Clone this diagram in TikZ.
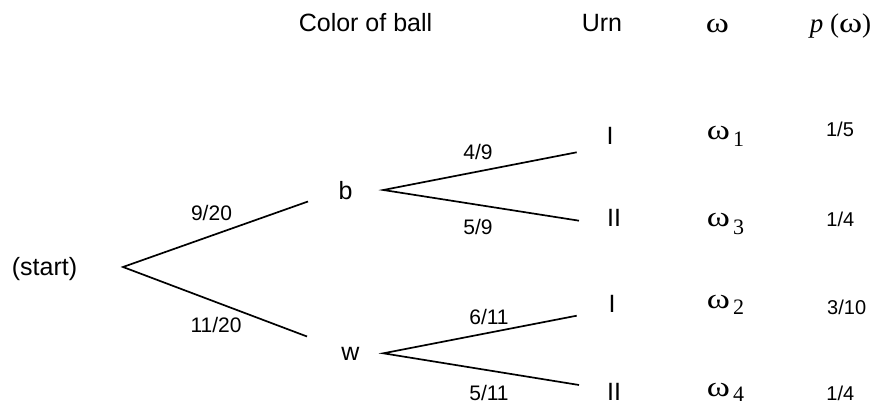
\documentclass[tikz,border=0pt]{standalone}
\usepackage{fontspec}
\setmainfont{Liberation Sans}
\newfontfamily\serif{Liberation Serif}
\newcommand{\wom}{\scalebox{1.3}[1.05]{ω}}
\newcommand{\subd}[2]{\kern3pt\lower#1pt\hbox{\fontsize{22}{22}\selectfont #2}}
\begin{document}
\begin{tikzpicture}[x=1pt,y=-1pt,
  txt/.style={inner sep=0pt,anchor=base,font=\fontsize{25}{28}\selectfont},
  lbl/.style={inner sep=0pt,anchor=base,font=\fontsize{21}{24}\selectfont},
  prob/.style={inner sep=0pt,anchor=base,font=\fontsize{20}{24}\selectfont},
  om/.style={inner sep=0pt,anchor=base west,font=\serif\fontsize{27}{30}\selectfont},
  branch/.style={line width=1.7pt}]
\useasboundingbox (0,0) rectangle (873,403);
% headers
\node[txt] (hcol) at (365.5,31.7) {Color of ball};
\node[txt] (hurn) at (602,31.7) {Urn};
\node[om,anchor=base] (hom) at (717.5,33) {\wom};
\node[om,anchor=base] (hp) at (840.5,33) {\itshape p\upshape\ (\wom)};
% tree nodes
\node[txt] (start) at (44.5,276) {(start)};
\node[txt] (b) at (345.5,200) {b};
\node[txt] (w) at (350.5,360) {w};
\node[txt] (bI) at (610,145) {I};
\node[txt] (bII) at (614,227) {II};
\node[txt] (wI) at (612,312.7) {I};
\node[txt] (wII) at (614,400) {II};
% line endpoints
\coordinate (s0) at (123,267);
\coordinate (sb) at (308,201.5);
\coordinate (sw) at (307,336.5);
\coordinate (b0) at (383.3,190);
\coordinate (bIe) at (576.7,152.3);
\coordinate (bIIe) at (579,220.7);
\coordinate (w0) at (383.3,353.3);
\coordinate (wIe) at (576.7,315.7);
\coordinate (wIIe) at (579,385);
\draw[branch] (sb) -- (s0) -- (sw);
\draw[branch] (bIe) -- (b0) -- (bIIe);
\draw[branch] (wIe) -- (w0) -- (wIIe);
% branch labels
\node[lbl] (l920) at (211.5,221) {9/20};
\node[lbl] (l1120) at (216,333) {11/20};
\node[lbl] (l49) at (478,160) {4/9};
\node[lbl] (l59) at (478,235) {5/9};
\node[lbl] (l611) at (489,325) {6/11};
\node[lbl] (l511) at (489,400) {5/11};
% outcomes
\node[om] (o1) at (706.7,140) {\wom\subd{6.7}{1}};
\node[om] (o3) at (706.7,226.5) {\wom\subd{8}{3}};
\node[om] (o2) at (706.7,308.3) {\wom\subd{6.7}{2}};
\node[om] (o4) at (706.7,396) {\wom\subd{5}{4}};
% probabilities
\node[prob] (p1) at (840,137) {1/5};
\node[prob] (p3) at (840.3,226.7) {1/4};
\node[prob] (p2) at (846.7,315) {3/10};
\node[prob] (p4) at (840.3,400) {1/4};
\end{tikzpicture}
\end{document}
